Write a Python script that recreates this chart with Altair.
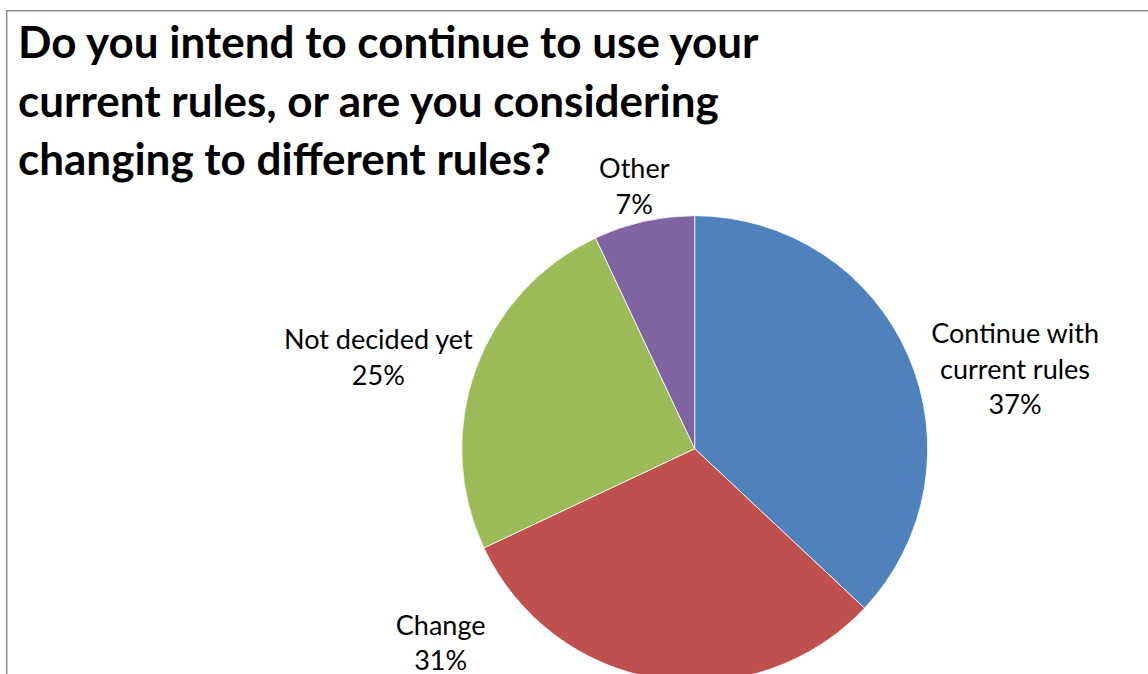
import altair as alt
import pandas as pd

# Data
categories = ["Continue with current rules", "Change", "Not decided yet", "Other"]
label_text = ["Continue with\ncurrent rules\n37%", "Change\n31%", "Not decided yet\n25%", "Other\n7%"]
values = [37, 31, 25, 7]
colors = ["#4F81BD", "#C0504D", "#9BBB59", "#8064A2"]
title_lines = [
    "Do you intend to continue to use your",
    "current rules, or are you considering",
    "changing to different rules?",
]

df = pd.DataFrame({
    "category": categories,
    "label": label_text,
    "value": values,
    "idx": list(range(len(categories))),
})
total = sum(values)

W, H = 1148, 674
CX, CY, R = 694.7, 448.7, 233

theta_scale = alt.Scale(domain=[0, total], range=[0, 6.283185307179586])

base = alt.Chart(df)

pie = base.mark_arc(outerRadius=R, stroke="#ffffff", strokeWidth=0.8).encode(
    theta=alt.Theta("value:Q", stack=True, scale=theta_scale),
    order=alt.Order("idx:Q"),
    color=alt.Color("category:N", scale=alt.Scale(domain=categories, range=colors), legend=None),
    x=alt.value(CX),
    y=alt.value(CY),
)

lab_base = base.transform_window(
    cum="sum(value)", sort=[alt.SortField("idx")], frame=[None, 0]
).transform_calculate(mid="datum.cum - datum.value / 2")

# per-label placement: (radius, dx, dy)
placements = {
    "Continue with current rules": (336, 12, 28),
    "Change": (224, -219, -35),
    "Not decided yet": (332, -4, 13),
    "Other": (277, 0, 0),
}

label_layers = []
for cat in categories:
    r, dx, dy = placements[cat]
    layer = lab_base.transform_filter(alt.datum.category == cat).mark_text(
        radius=r, dx=dx, dy=dy, align="center", baseline="alphabetic",
        font="Lato", fontSize=27, lineHeight=35.5, lineBreak="\n", color="#000000",
    ).encode(
        theta=alt.Theta("mid:Q", scale=theta_scale),
        text="label:N",
        x=alt.value(CX),
        y=alt.value(CY),
    )
    label_layers.append(layer)

one = alt.Chart(pd.DataFrame({"k": [0]}))

title = one.mark_text(
    align="left", baseline="alphabetic", font="Lato", fontWeight="bold",
    fontSize=44, lineHeight=58.5, color="#000000", text=title_lines,
).encode(x=alt.value(18), y=alt.value(58))

border = one.mark_rect(fill="transparent", stroke="#8a8a8a", strokeWidth=1.5).encode(
    x=alt.value(6.7), x2=alt.value(W + 50), y=alt.value(10.7), y2=alt.value(H + 50)
)

chart = alt.layer(border, pie, *label_layers, title).properties(
    width=W, height=H, padding=0, autosize=alt.AutoSizeParams(type="none"),
    background="#ffffff",
).configure_view(stroke=None)

chart.save("out.html", embed_options={"renderer": "svg", "actions": False})
